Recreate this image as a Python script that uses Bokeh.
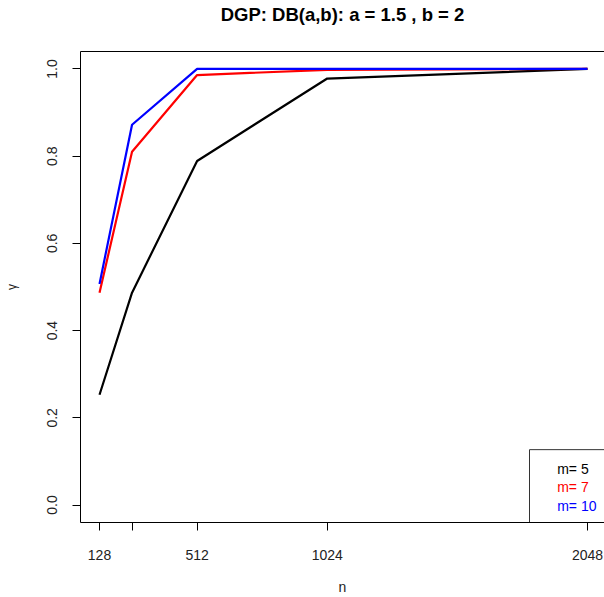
from bokeh.plotting import figure
from bokeh.models import Range1d, LinearAxis, FixedTicker, PrintfTickFormatter
from bokeh.core.properties import value
from bokeh.embed import file_html
from bokeh.resources import INLINE

# ---- data ----
n_vals = [128, 256, 512, 1024, 2048]
gamma_m5 = [0.253, 0.487, 0.789, 0.978, 1.0]
gamma_m7 = [0.487, 0.810, 0.986, 0.998, 1.0]
gamma_m10 = [0.507, 0.872, 1.0, 1.0, 1.0]
series_labels = ["m= 5", "m= 7", "m= 10"]
series_colors = ["black", "red", "blue"]
x_tick_values = [128, 256, 512, 1024, 2048]
x_tick_labels = ["128", "", "512", "1024", "2048"]
y_tick_values = [0.0, 0.2, 0.4, 0.6, 0.8, 1.0]
title_text = "DGP: DB(a,b): a = 1.5 , b = 2"

# ---- layout ----
W, H = 604, 597
FL, FR, FT, FB = 80, 0, 51, 74
X0, X1 = 53.2, 2115.0
Y0, Y1 = -0.04, 1.04
FW, FH = W - FL - FR, H - FT - FB
FONT = "Liberation Sans"


def px_x(page_x):
    return X0 + (page_x - FL) / FW * (X1 - X0)


def px_y(page_y):
    return Y1 - (page_y - FT) / FH * (Y1 - Y0)


p = figure(width=W, height=H, x_range=Range1d(X0, X1), y_range=Range1d(Y0, Y1),
           output_backend="svg", toolbar_location=None,
           min_border_left=FL, min_border_right=FR, min_border_top=FT, min_border_bottom=FB,
           x_axis_location=None, y_axis_location=None)
p.outline_line_color = None
p.background_fill_color = "white"
p.border_fill_color = "white"
p.xgrid.visible = False
p.ygrid.visible = False

# bottom axis
xa = LinearAxis(ticker=FixedTicker(ticks=x_tick_values))
xa.major_label_overrides = {v: s for v, s in zip(x_tick_values, x_tick_labels)}
xa.major_tick_out = 8
xa.major_tick_in = 0
xa.minor_tick_out = 0
xa.minor_tick_in = 0
xa.major_label_standoff = 19
xa.major_label_text_font = FONT
xa.major_label_text_font_size = "14px"
xa.major_label_text_color = "#222222"
xa.axis_label = "n"
xa.axis_label_standoff = 16
xa.axis_label_text_font = FONT
xa.axis_label_text_font_size = "14px"
xa.axis_label_text_font_style = "normal"
xa.axis_label_text_color = "#222222"
xa.axis_line_color = "black"
xa.major_tick_line_color = "black"
p.add_layout(xa, "below")

# left axis
ya = LinearAxis(ticker=FixedTicker(ticks=y_tick_values), formatter=PrintfTickFormatter(format="%.1f"))
ya.major_tick_out = 8
ya.major_tick_in = 0
ya.minor_tick_out = 0
ya.minor_tick_in = 0
ya.major_label_orientation = "vertical"
ya.major_label_standoff = 15
ya.major_label_text_font = FONT
ya.major_label_text_font_size = "14px"
ya.major_label_text_color = "#222222"
ya.axis_label = "\u03b3"
ya.axis_label_standoff = 26
ya.axis_label_text_font = FONT
ya.axis_label_text_font_size = "12px"
ya.axis_label_text_font_style = "normal"
ya.axis_label_text_color = "#222222"
ya.axis_line_color = "black"
p.add_layout(ya, "left")

# top border (axis line) carrying the main title, R-style centred over the plot region
ta = LinearAxis(ticker=FixedTicker(ticks=[]))
ta.major_tick_out = 0
ta.major_tick_in = 0
ta.minor_tick_out = 0
ta.minor_tick_in = 0
ta.major_label_text_font_size = "0px"
ta.major_label_standoff = 0
ta.axis_line_color = "black"
ta.axis_label = title_text
ta.axis_label_standoff = 27
ta.axis_label_text_font = FONT
ta.axis_label_text_font_size = "18.5px"
ta.axis_label_text_font_style = "bold"
ta.axis_label_text_color = "black"
p.add_layout(ta, "above")

# series
for ys, c in zip([gamma_m5, gamma_m7, gamma_m10], series_colors):
    p.line(n_vals, ys, line_color=c, line_width=2.2)

# legend box (R style, text only)
lx, ly = px_x(529), px_y(450)
p.line([lx, lx, X1], [Y0, ly, ly], line_color="#333333", line_width=1)
p.text(x=[px_x(556.7)] * 3, y=[px_y(469.3), px_y(487.8), px_y(506.3)],
       text=series_labels, text_color=series_colors, text_baseline="middle", text_align="left",
       text_font=value(FONT), text_font_size="14px")

open("out.html", "w").write(file_html(p, INLINE))
